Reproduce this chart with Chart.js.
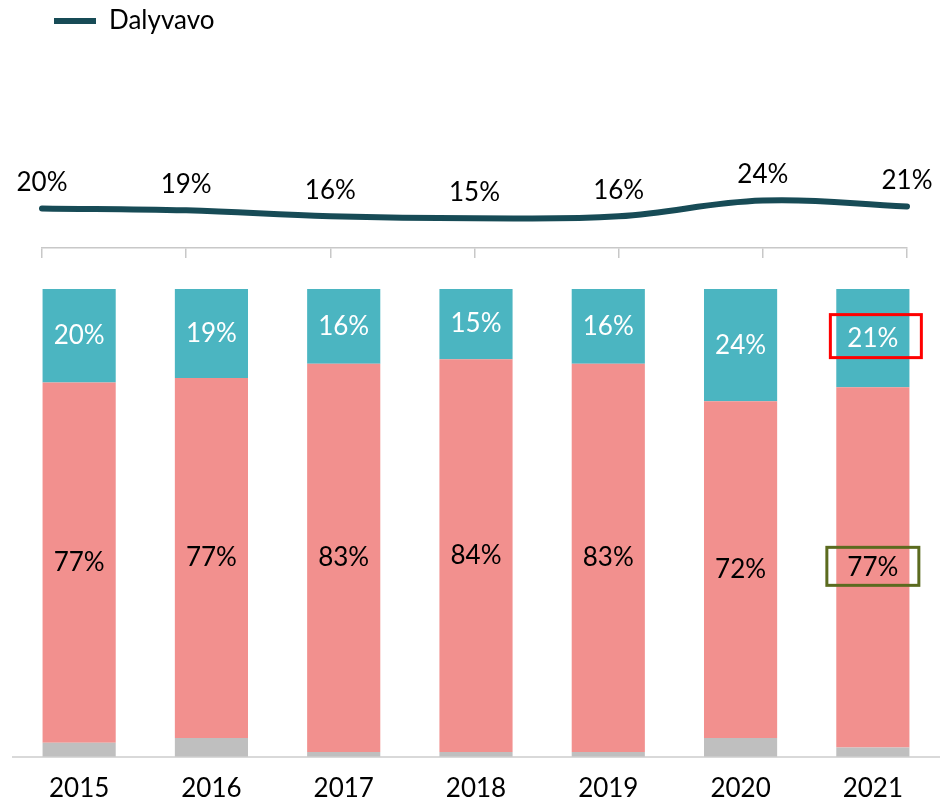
<!DOCTYPE html>
<html>
<head>
<meta charset="utf-8">
<script src="https://cdn.jsdelivr.net/npm/chart.js@4.4.0/dist/chart.umd.min.js"></script>
<style>
  html, body { margin: 0; padding: 0; background: #ffffff; width: 941px; height: 799px; overflow: hidden; }
  #lineWrap { position: absolute; left: 0; top: -4px; width: 941px; height: 264px; }
  #barWrap { position: absolute; left: 0; top: 0; width: 941px; height: 820px; }
</style>
</head>
<body>
<div id="barWrap"><canvas id="barChart"></canvas></div>
<div id="lineWrap"><canvas id="lineChart"></canvas></div>
<script>
// ---- Data ----
const years = ['2015', '2016', '2017', '2018', '2019', '2020', '2021'];
const participatedLine = [20, 19, 16, 15, 16, 24, 21];   // Dalyvavo (line)
const topShare = [20, 19, 16, 15, 16, 24, 21];           // teal segment
const middleShare = [77, 77, 83, 84, 83, 72, 77];        // pink segment
const bottomShare = [3, 4, 1, 1, 1, 4, 2];               // grey segment (unlabelled)
const lineLegendLabel = 'Dalyvavo';
const highlightYear = '2021';

// ---- Styles ----
const FONT = 'Lato, "Open Sans", "Liberation Sans", sans-serif';
Chart.defaults.font.family = FONT;
Chart.defaults.color = '#000000';

const valueLabels = {
  id: 'valueLabels',
  afterDatasetsDraw(chart) {
    const ctx = chart.ctx;
    chart.data.datasets.forEach((ds, di) => {
      if (!ds.showLabels) return;
      const meta = chart.getDatasetMeta(di);
      meta.data.forEach((el, i) => {
        const p = el.getProps(['x', 'y', 'base'], true);
        const cx = p.x;
        const cy = meta.type === 'bar' ? (p.y + p.base) / 2 : p.y - ds.labelOffset;
        ctx.save();
        ctx.font = '26px ' + FONT;
        ctx.fillStyle = ds.labelColor;
        ctx.textAlign = 'center';
        ctx.textBaseline = 'middle';
        ctx.fillText(ds.data[i] + '%', cx, cy);
        if (ds.highlight && chart.data.labels[i] === highlightYear) {
          const h = ds.highlight;
          ctx.strokeStyle = h.color;
          ctx.lineWidth = 3;
          ctx.strokeRect(cx + h.dx - h.w / 2, cy + h.dy - h.h / 2, h.w, h.h);
        }
        ctx.restore();
      });
    });
  }
};

// ---- Bar chart (100% stacked) ----
new Chart(document.getElementById('barChart'), {
  type: 'bar',
  data: {
    labels: years,
    datasets: [
      { label: 'bottom', data: bottomShare, backgroundColor: '#bfbfbf', showLabels: false },
      { label: 'middle', data: middleShare, backgroundColor: '#f2908e', showLabels: true, labelColor: '#000000',
        highlight: { color: '#5b6b1f', w: 92, h: 38, dx: 0, dy: -1 } },
      { label: 'top', data: topShare, backgroundColor: '#4bb5c1', showLabels: true, labelColor: '#ffffff',
        highlight: { color: '#ff0000', w: 91, h: 43, dx: 3, dy: -2 } }
    ]
  },
  options: {
    responsive: true,
    maintainAspectRatio: false,
    animation: false,
    layout: { padding: { top: 289, left: 13, right: 2, bottom: 0 } },
    datasets: { bar: { barPercentage: 1, categoryPercentage: 0.553, borderWidth: 0 } },
    plugins: { legend: { display: false }, tooltip: { enabled: false } },
    scales: {
      x: {
        stacked: true,
        grid: { display: false, drawTicks: false },
        border: { display: true, color: '#d9d9d9', width: 2 },
        ticks: { color: '#000000', font: { size: 26 }, padding: 16 }
      },
      y: { stacked: true, display: false, min: 0, max: 100 }
    }
  },
  plugins: [valueLabels]
});

// ---- Line chart ----
new Chart(document.getElementById('lineChart'), {
  type: 'line',
  data: {
    labels: years,
    datasets: [
      { label: lineLegendLabel, data: participatedLine, borderColor: '#174b56', backgroundColor: '#174b56',
        borderWidth: 6, borderCapStyle: 'round', tension: 0.4, pointRadius: 0,
        showLabels: true, labelColor: '#000000', labelOffset: 26 }
    ]
  },
  options: {
    responsive: true,
    maintainAspectRatio: false,
    animation: false,
    layout: { padding: { top: 0, left: 42, right: 34, bottom: 2 } },
    plugins: {
      tooltip: { enabled: false },
      legend: {
        display: true,
        align: 'start',
        labels: {
          usePointStyle: true,
          pointStyle: 'line',
          pointStyleWidth: 42,
          padding: 12,
          color: '#000000',
          font: { size: 26 }
        }
      }
    },
    scales: {
      x: {
        offset: false,
        grid: { display: true, drawOnChartArea: false, drawTicks: true, tickLength: 10, color: '#c8c8c8', lineWidth: 1.5 },
        border: { display: true, color: '#c8c8c8', width: 1.5 },
        ticks: { display: false }
      },
      y: { display: false, min: 0, max: 103 }
    }
  },
  plugins: [valueLabels]
});
</script>
</body>
</html>
